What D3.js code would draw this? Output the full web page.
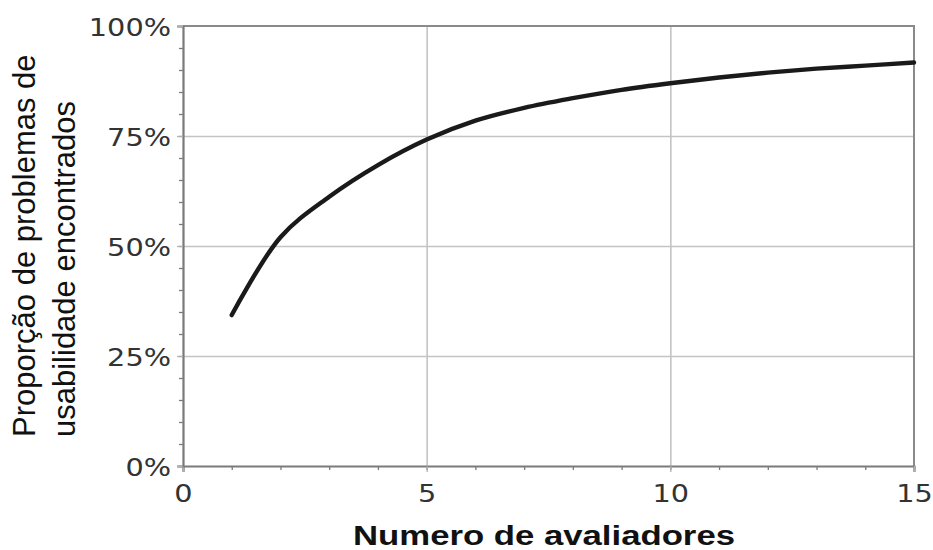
<!DOCTYPE html>
<html>
<head>
<meta charset="utf-8">
<script src="https://cdn.jsdelivr.net/npm/d3@7"></script>
<style>
  body { margin: 0; background: #fff; }
  svg { display: block; }
</style>
</head>
<body>
<div id="chart"></div>
<script>
// number of evaluators vs. share of usability problems found
const evaluators = [1, 2, 3, 4, 5, 6, 7, 8, 9, 10, 11, 12, 13, 14, 15];
const found = [0.343, 0.520, 0.612, 0.684, 0.742, 0.785, 0.814, 0.836, 0.855, 0.870, 0.883, 0.894, 0.903, 0.910, 0.917];

const xTicks = [0, 5, 10, 15];
const yTicks = [0, 0.25, 0.5, 0.75, 1];
const xLabel = "Numero de avaliadores";
const yLabelLines = ["Proporção de problemas de", "usabilidade encontrados"];

/***** BASIC SETUP *****/
const width = 933, height = 550;
const margin = {top: 26, left: 183, right: 19, bottom: 84};
const plotWidth = width - margin.left - margin.right;
const plotHeight = height - margin.top - margin.bottom;

const svg = d3.select("#chart").append("svg")
    .attr("width", width)
    .attr("height", height);

const xScale = d3.scaleLinear().domain([0, 15]).range([0, plotWidth]);
const yScale = d3.scaleLinear().domain([0, 1]).range([plotHeight, 0]);

const plot = svg.append("g")
    .attr("transform", `translate(${margin.left}, ${margin.top})`);

/***** GRIDLINES *****/
plot.append("g")
    .attr("class", "xGrid")
    .call(d3.axisBottom(xScale).tickValues(xTicks.slice(1, -1)).tickSize(plotHeight).tickFormat(""))
    .call(g => g.select(".domain").remove())
    .selectAll("line")
    .attr("stroke", "#c4c4c4")
    .attr("stroke-width", 1.6);

plot.append("g")
    .attr("class", "yGrid")
    .call(d3.axisLeft(yScale).tickValues(yTicks.slice(1, -1)).tickSize(-plotWidth).tickFormat(""))
    .call(g => g.select(".domain").remove())
    .selectAll("line")
    .attr("stroke", "#c4c4c4")
    .attr("stroke-width", 1.6);

// frame top + right
plot.append("path")
    .attr("d", `M0,0H${plotWidth}V${plotHeight}`)
    .attr("fill", "none")
    .attr("stroke", "#8a8a8a")
    .attr("stroke-width", 2);

/***** MINOR TICKS *****/
plot.append("g")
    .attr("transform", `translate(0, ${plotHeight})`)
    .call(d3.axisBottom(xScale).tickValues(d3.range(0, 16)).tickSize(4).tickFormat(""))
    .call(g => g.select(".domain").remove())
    .selectAll("line").attr("stroke", "#7a7a7a").attr("stroke-width", 1.3);

plot.append("g")
    .call(d3.axisLeft(yScale).tickValues(d3.range(0, 1.0001, 0.05)).tickSize(4).tickFormat(""))
    .call(g => g.select(".domain").remove())
    .selectAll("line").attr("stroke", "#7a7a7a").attr("stroke-width", 1.3);

/***** AXES *****/
const stretch = 1.15;

plot.append("g")
    .attr("class", "xAxis")
    .attr("transform", `translate(0, ${plotHeight})`)
    .call(d3.axisBottom(xScale).tickValues(xTicks).tickSize(6).tickFormat(d3.format("d")))
    .call(g => g.select(".domain").attr("stroke", "#7a7a7a").attr("stroke-width", 2.2))
    .call(g => g.selectAll(".tick line").attr("stroke", "#b0b0b0").attr("stroke-width", 1.3))
    .call(g => g.selectAll(".tick text")
        .attr("y", 36).attr("dy", 0)
        .attr("transform", `scale(${stretch},1)`)
        .attr("fill", "#333")
        .style("font-family", "'DejaVu Sans', Verdana, sans-serif")
        .style("font-size", "25px"));

plot.append("g")
    .attr("class", "yAxis")
    .call(d3.axisLeft(yScale).tickValues(yTicks).tickSize(6).tickFormat(d3.format(".0%")))
    .call(g => g.select(".domain").attr("stroke", "#7a7a7a").attr("stroke-width", 2.2))
    .call(g => g.selectAll(".tick line").attr("stroke", "#b0b0b0").attr("stroke-width", 1.3))
    .call(g => g.selectAll(".tick text")
        .attr("x", -12 / stretch).attr("dy", "0.36em")
        .attr("transform", `scale(${stretch},1)`)
        .attr("fill", "#333")
        .style("font-family", "'DejaVu Sans', Verdana, sans-serif")
        .style("font-size", "25px"));

/***** CURVE *****/
const line = d3.line()
    .x((d, i) => xScale(evaluators[i]))
    .y(d => yScale(d))
    .curve(d3.curveCatmullRom.alpha(0.5));

plot.append("path")
    .datum(found)
    .attr("d", line)
    .attr("fill", "none")
    .attr("stroke", "#1a1a1a")
    .attr("stroke-width", 4.4)
    .attr("stroke-linecap", "round");

/***** AXIS LABELS *****/
svg.append("text")
    .attr("x", 353)
    .attr("y", 545)
    .attr("textLength", 382)
    .attr("lengthAdjust", "spacingAndGlyphs")
    .attr("fill", "#111")
    .style("font-family", "'Liberation Sans', Arial, sans-serif")
    .style("font-weight", "bold")
    .style("font-size", "27px")
    .text(xLabel);

const yLab = svg.append("g")
    .attr("transform", "translate(0, 437) rotate(-90)");

yLab.selectAll("text")
    .data(yLabelLines)
    .join("text")
    .attr("x", 0)
    .attr("y", (d, i) => i === 0 ? 35 : 75)
    .attr("fill", "#111")
    .style("font-family", "'Liberation Sans', Arial, sans-serif")
    .style("font-size", "31px")
    .text(d => d);
</script>
</body>
</html>
